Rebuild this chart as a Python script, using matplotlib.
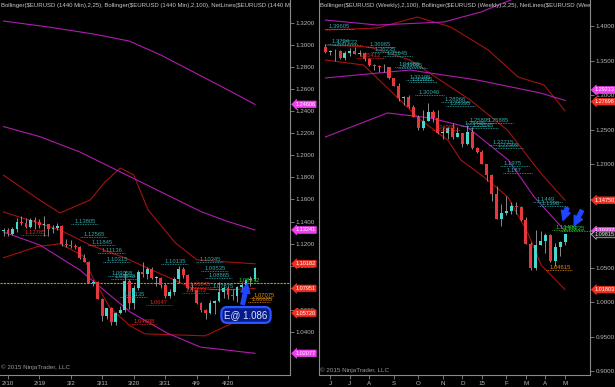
import numpy as np
import matplotlib
matplotlib.use('Agg')
import matplotlib.pyplot as plt
from matplotlib.patches import FancyArrowPatch

plt.rcParams['font.family'] = ['Liberation Sans', 'DejaVu Sans']

# ---- daily EURUSD 2/9 .. 4/28 (left panel) ----
d_open = [1.1315, 1.1320, 1.1290, 1.1330, 1.1400, 1.1390, 1.1350, 1.1410, 1.1400, 1.1370,
          1.1380, 1.1330, 1.1340, 1.1360, 1.1200, 1.1190, 1.1180, 1.1170, 1.1070, 1.1030,
          1.0840, 1.0850, 1.0700, 1.0550, 1.0620, 1.0490, 1.0570, 1.0600, 1.0860, 1.0660,
          1.0800, 1.0940, 1.0930, 1.0970, 1.0890, 1.0890, 1.0830, 1.0730, 1.0760, 1.0880,
          1.0970, 1.0920, 1.0800, 1.0780, 1.0660, 1.0600, 1.0570, 1.0660, 1.0680, 1.0760,
          1.0800, 1.0740, 1.0730, 1.0810, 1.0830, 1.0870, 1.0880]
d_high = [1.1345, 1.1340, 1.1350, 1.1430, 1.1450, 1.1430, 1.1430, 1.1440, 1.1420, 1.1450,
          1.1380, 1.1370, 1.1390, 1.1370, 1.1240, 1.1230, 1.1200, 1.1180, 1.1110, 1.1040,
          1.0870, 1.0860, 1.0710, 1.0620, 1.0630, 1.0580, 1.0640, 1.0950, 1.0880, 1.0830,
          1.0960, 1.1030, 1.0990, 1.0990, 1.0910, 1.0900, 1.0840, 1.0790, 1.0900, 1.1000,
          1.0990, 1.0930, 1.0840, 1.0790, 1.0670, 1.0610, 1.0690, 1.0690, 1.0850, 1.0820,
          1.0820, 1.0790, 1.0820, 1.0850, 1.0880, 1.0910, 1.0990]
d_low = [1.1270, 1.1270, 1.1280, 1.1310, 1.1370, 1.1345, 1.1340, 1.1330, 1.1340, 1.1270,
         1.1270, 1.1300, 1.1320, 1.1180, 1.1170, 1.1160, 1.1150, 1.1060, 1.1030, 1.0840,
         1.0820, 1.0700, 1.0500, 1.0520, 1.0460, 1.0460, 1.0560, 1.0580, 1.0610, 1.0610,
         1.0780, 1.0900, 1.0880, 1.0880, 1.0820, 1.0800, 1.0710, 1.0710, 1.0740, 1.0840,
         1.0890, 1.0790, 1.0770, 1.0650, 1.0580, 1.0520, 1.0560, 1.0560, 1.0670, 1.0710,
         1.0700, 1.0690, 1.0670, 1.0760, 1.0810, 1.0820, 1.0860]
d_close = [1.1320, 1.1290, 1.1330, 1.1400, 1.1390, 1.1350, 1.1410, 1.1400, 1.1370, 1.1380,
           1.1330, 1.1340, 1.1360, 1.1200, 1.1190, 1.1180, 1.1170, 1.1070, 1.1030, 1.0840,
           1.0850, 1.0700, 1.0550, 1.0620, 1.0490, 1.0570, 1.0600, 1.0860, 1.0660, 1.0800,
           1.0940, 1.0930, 1.0970, 1.0890, 1.0890, 1.0830, 1.0730, 1.0760, 1.0880, 1.0970,
           1.0920, 1.0800, 1.0780, 1.0660, 1.0600, 1.0570, 1.0660, 1.0680, 1.0760, 1.0800,
           1.0740, 1.0730, 1.0810, 1.0830, 1.0870, 1.0880, 1.0980]
d_tick_pos = [1, 8, 15, 22, 29, 36, 43, 50]
d_tick_lab = ['2/10', '2/19', '3/2', '3/11', '3/20', '3/31', '4/9', '4/20']

# daily bollinger bands (bar index, price)
d_bb25_up_x = [0, 8, 12.6, 19.3, 22.6, 26, 29, 32.2, 38.3, 43.1, 56]
d_bb25_up = [1.182, 1.1596, 1.1478, 1.1596, 1.1758, 1.1885, 1.1822, 1.1505, 1.1206, 1.1053, 1.10182]
d_bb25_mid_x = [0, 12.6, 19.3, 27.1, 42, 48.7, 56]
d_bb25_mid = [1.1487, 1.1324, 1.1188, 1.1071, 1.0799, 1.0781, 1.07951]
d_bb25_lo_x = [0, 7.5, 12.6, 17.7, 19.9, 23.7, 28.2, 31.5, 44.9, 48.7, 56]
d_bb25_lo = [1.1073, 1.1173, 1.1200, 1.1091, 1.0892, 1.0619, 1.0456, 1.0384, 1.0366, 1.0438, 1.0572]
d_bb100_up_x = [0, 10, 20, 28, 35, 44, 50, 56]
d_bb100_up = [1.3215, 1.3161, 1.3098, 1.3034, 1.2908, 1.2718, 1.2591, 1.24606]
d_bb100_mid_x = [0, 8, 17, 28, 36, 44, 50, 56]
d_bb100_mid = [1.226, 1.217, 1.203, 1.181, 1.165, 1.149, 1.140, 1.13241]
d_bb100_lo_x = [0, 8.1, 17, 28.2, 36.4, 43.8, 56]
d_bb100_lo = [1.1306, 1.1188, 1.0962, 1.0582, 1.0392, 1.0265, 1.02077]
d_entry = 1.0845

# daily NetLines levels: value, first bar, colour group
d_teal_val = [1.13805, 1.12565, 1.11845, 1.11136, 1.10315, 1.09058, 1.08848, 1.07135,
              1.10135, 1.10345, 1.09535, 1.08865, 1.07875]
d_teal_x = [15.5, 17.5, 19.3, 21.5, 22.6, 23.7, 24.4, 26.4, 35.5, 43.3, 44.4, 45.3, 46.2]
d_red_val = [1.12785, 1.04698, 1.0647, 1.08045, 1.07572]
d_red_x = [4.3, 28.6, 32.2, 41.1, 40.2]
d_green_val = [1.08472]
d_green_x = [52]
d_orange_val = [1.07075, 1.06685]
d_orange_x = [55.3, 54.9]

# ---- weekly EURUSD 5/19/2014 .. 4/27/2015 (right panel) ----
w_open = [1.3695, 1.3630, 1.3635, 1.3640, 1.3540, 1.3610, 1.3645, 1.3595, 1.3605, 1.3525,
          1.3430, 1.3425, 1.3410, 1.3400, 1.3240, 1.3130, 1.2950, 1.2965, 1.2830, 1.2685,
          1.2525, 1.2630, 1.2760, 1.2670, 1.2450, 1.2450, 1.2525, 1.2390, 1.2450, 1.2290,
          1.2465, 1.2230, 1.2180, 1.2000, 1.1840, 1.1570, 1.1200, 1.1290, 1.1320, 1.1390,
          1.1380, 1.1190, 1.0840, 1.0490, 1.0820, 1.0890, 1.0970, 1.0600, 1.0800, 1.0870]
w_high = [1.3735, 1.3650, 1.3670, 1.3650, 1.3645, 1.3680, 1.3700, 1.3650, 1.3620, 1.3540,
          1.3445, 1.3440, 1.3445, 1.3410, 1.3245, 1.3170, 1.2990, 1.2995, 1.2860, 1.2705,
          1.2790, 1.2890, 1.2780, 1.2790, 1.2530, 1.2530, 1.2600, 1.2530, 1.2455, 1.2570,
          1.2530, 1.2250, 1.2200, 1.2000, 1.1850, 1.1680, 1.1420, 1.1535, 1.1450, 1.1450,
          1.1390, 1.1230, 1.0870, 1.1040, 1.1030, 1.1000, 1.0990, 1.0850, 1.0880, 1.0990]
w_low = [1.3615, 1.3585, 1.3500, 1.3525, 1.3505, 1.3570, 1.3590, 1.3570, 1.3490, 1.3420,
         1.3365, 1.3335, 1.3330, 1.3225, 1.3130, 1.2920, 1.2860, 1.2815, 1.2680, 1.2500,
         1.2500, 1.2620, 1.2610, 1.2440, 1.2360, 1.2360, 1.2360, 1.2390, 1.2245, 1.2270,
         1.2220, 1.2165, 1.1995, 1.1750, 1.1460, 1.1200, 1.1100, 1.1260, 1.1270, 1.1270,
         1.1170, 1.0840, 1.0460, 1.0460, 1.0820, 1.0710, 1.0580, 1.0520, 1.0670, 1.0820]
w_close = [1.3630, 1.3635, 1.3640, 1.3540, 1.3610, 1.3645, 1.3595, 1.3605, 1.3525, 1.3430,
           1.3425, 1.3410, 1.3400, 1.3240, 1.3130, 1.2950, 1.2965, 1.2830, 1.2685, 1.2525,
           1.2630, 1.2760, 1.2670, 1.2450, 1.2450, 1.2525, 1.2390, 1.2450, 1.2290, 1.2465,
           1.2230, 1.2180, 1.2000, 1.1840, 1.1570, 1.1200, 1.1290, 1.1320, 1.1390, 1.1380,
           1.1190, 1.0840, 1.0490, 1.0820, 1.0890, 1.0970, 1.0600, 1.0800, 1.0870, 1.0980]
w_tick_pos = [1, 5, 9, 14, 19, 24, 28, 32, 37, 41, 45, 49]
w_tick_lab = ['J', 'J', 'A', 'S', 'O', 'N', 'D', '15', 'F', 'M', 'A', 'M']

w_bb25_up_x = [0, 10.6, 18.8, 25.6, 33.3, 39.4, 44.7, 49]
w_bb25_up = [1.3942, 1.3971, 1.4130, 1.3986, 1.3652, 1.3261, 1.3145, 1.27698]
w_bb25_mid_x = [0, 9, 17.3, 29.6, 37.2, 44, 49]
w_bb25_mid = [1.3725, 1.3696, 1.3507, 1.2928, 1.2493, 1.1870, 1.1475]
w_bb25_lo_x = [0, 7.8, 19.5, 25, 27.7, 32.4, 37.3, 41.4, 44.1, 49]
w_bb25_lo = [1.3507, 1.3435, 1.2638, 1.2348, 1.2058, 1.1812, 1.1522, 1.1000, 1.0537, 1.01803]
w_bb100_up_x = [0, 10.6, 24.2, 31.8, 37.9, 43.5, 49]
w_bb100_up = [1.4087, 1.4014, 1.4058, 1.4203, 1.4377, 1.460, 1.481]
w_bb100_mid_x = [0, 17.3, 31, 44, 49]
w_bb100_mid = [1.3247, 1.3362, 1.3218, 1.3029, 1.29213]
w_bb100_lo_x = [0, 12.7, 21.5, 29, 37.4, 42.7, 49]
w_bb100_lo = [1.2392, 1.2740, 1.2667, 1.2536, 1.2058, 1.1522, 1.1030]

w_teal_val = [1.39605, 1.3734, 1.37222, 1.36965, 1.36235, 1.35645, 1.34088, 1.33925,
              1.32195, 1.31885, 1.30046, 1.28966, 1.28395, 1.25895, 1.25885, 1.25445,
              1.25245, 1.22715, 1.22305, 1.1975, 1.187, 1.1449, 1.1398]
w_teal_x = [0.3, 0.9, 2, 8.7, 9.8, 12.2, 14.7, 15.3, 16.8, 17.4, 18.8, 24, 25, 29.1, 32.8,
            28.1, 29.7, 33.8, 34.8, 36.2, 36.8, 42.9, 43.9]
w_red_val = [1.35412, 1.24905]
w_red_x = [6.7, 22.1]
w_green_val = [1.10406, 1.10225]
w_green_x = [46.8, 48.3]
w_orange_val = [1.04615]
w_orange_x = [45.6]

UP = '#4ad6cf'
DOWN = '#e8383f'
TEAL = '#2fa9a9'
GRID = '#8a8a8a'
TXT = '#b8b8b8'


def draw_candles(ax, o, h, l, c, min_body):
    o, h, l, c = map(np.asarray, (o, h, l, c))
    x = np.arange(len(o))
    cols = [UP if cc > oo else (DOWN if cc < oo else '#c0c0c0') for oo, cc in zip(o, c)]
    ax.vlines(x, l, h, colors='#a0a0a0', lw=0.6, zorder=3)
    body = np.maximum(np.abs(c - o), min_body)
    ax.bar(x, body, bottom=np.minimum(o, c), width=0.62, color=cols, lw=0, zorder=4)


def draw_bands(ax, red, mag):
    for xs, ys in red:
        ax.plot(xs, ys, color='#a3120f', lw=0.8, zorder=2)
    for xs, ys in mag:
        ax.plot(xs, ys, color='#b01cb0', lw=0.8, zorder=2)


def draw_levels(ax, vals, xs, color, width):
    for v, x in zip(vals, xs):
        ax.hlines(v, x - 0.4, x + width, colors=color, lw=0.6, linestyles=(0, (1, 1)), zorder=5)
        ax.text(x + 0.3, v, '%g' % v, color=color,
                fontsize=4.2, ha='left', va='bottom', zorder=6, clip_on=True)


def style_axes(ax, yticks, fmt):
    ax.set_facecolor('black')
    for side in ('top', 'left'):
        ax.spines[side].set_visible(False)
    for side in ('right', 'bottom'):
        ax.spines[side].set_color(GRID)
        ax.spines[side].set_linewidth(0.8)
    ax.yaxis.tick_right()
    ax.set_yticks(yticks)
    ax.set_yticklabels([fmt % t for t in yticks])
    ax.tick_params(axis='both', colors=GRID, labelcolor=TXT, labelsize=4.5, length=3, width=0.6, pad=1)


def tag(ax, price, text, fc, ec=None, tc='white'):
    ax.text(1.018, price, text, transform=ax.get_yaxis_transform(), ha='left', va='center',
            fontsize=4.0, color=tc, clip_on=False, zorder=20,
            bbox=dict(boxstyle='larrow,pad=0.15', fc=fc, ec=ec or fc, lw=0.5))


fig = plt.figure(figsize=(6.15, 3.87), dpi=100, facecolor='black')

# ---------------- left: daily ----------------
ax1 = fig.add_axes([0, 12 / 387, 290 / 615, 375 / 387])
style_axes(ax1, np.arange(1.04, 1.3201, 0.02), '%.4f')
ax1.set_xlim(-0.78, 63.8)
ax1.set_ylim(1.00117, 1.34054)
ax1.set_xticks(d_tick_pos)
ax1.set_xticklabels(d_tick_lab)

ax1.axhline(d_entry, color='#8fb020', lw=0.8, ls=(0, (2, 1)), zorder=1)
draw_bands(ax1,
           [(d_bb25_up_x, d_bb25_up), (d_bb25_mid_x, d_bb25_mid), (d_bb25_lo_x, d_bb25_lo)],
           [(d_bb100_up_x, d_bb100_up), (d_bb100_mid_x, d_bb100_mid), (d_bb100_lo_x, d_bb100_lo)])
draw_candles(ax1, d_open, d_high, d_low, d_close, 0.0005)
draw_levels(ax1, d_teal_val, d_teal_x, TEAL, 5.5)
draw_levels(ax1, d_red_val, d_red_x, '#e0281e', 5.5)
draw_levels(ax1, d_green_val, d_green_x, '#25d025', 5)
draw_levels(ax1, d_orange_val, d_orange_x, '#e08a10', 4.5)

ax1.text(0.002, 0.993, 'Bollinger($EURUSD (1440 Min),2,25), Bollinger($EURUSD (1440 Min),2,100), '
         'NetLines($EURUSD (1440 Min),3,5,Cold', transform=ax1.transAxes, fontsize=4.3,
         color='#c8c8c8', va='top', ha='left', clip_on=True)
ax1.text(0.003, 0.012, '\u00a9 2015 NinjaTrader, LLC', transform=ax1.transAxes, fontsize=4.5,
         color='#9a9a9a', va='bottom', ha='left')

tag(ax1, d_bb100_up[-1], '1.24606', '#f040f0')
tag(ax1, d_bb100_mid[-1], '1.13241', '#f040f0')
tag(ax1, d_bb100_lo[-1], '1.02077', '#f040f0')
tag(ax1, d_bb25_up[-1], '1.10182', '#f03020')
tag(ax1, d_bb25_mid[-1], '1.07951', '#f03020')
tag(ax1, d_bb25_lo[-1], '1.05720', '#f03020')

ax1.add_patch(FancyArrowPatch((53.1, 1.0627), (54.45, 1.0862), arrowstyle='simple,head_width=3,head_length=3,tail_width=1.2',
                              mutation_scale=2.2, color='#1e46ff', zorder=25))
ax1.text(54.0, 1.0555, 'E@ 1.086', fontsize=7, color='#dde6ff', ha='center', va='center', zorder=26,
         bbox=dict(boxstyle='round,pad=0.3,rounding_size=0.6', fc='#061a8a', ec='#2a55ff', lw=1.6))

# ---------------- right: weekly ----------------
ax2 = fig.add_axes([319 / 615, 12 / 387, 271 / 615, 375 / 387])
style_axes(ax2, np.arange(0.90, 1.4001, 0.05), '%.4f')
ax2.spines['left'].set_visible(True)
ax2.spines['left'].set_color(GRID)
ax2.spines['left'].set_linewidth(0.8)
ax2.set_xlim(-1.31, 54.1)
ax2.set_ylim(0.8943, 1.43768)
ax2.set_xticks(w_tick_pos)
ax2.set_xticklabels(w_tick_lab)

draw_bands(ax2,
           [(w_bb25_up_x, w_bb25_up), (w_bb25_mid_x, w_bb25_mid), (w_bb25_lo_x, w_bb25_lo)],
           [(w_bb100_up_x, w_bb100_up), (w_bb100_mid_x, w_bb100_mid), (w_bb100_lo_x, w_bb100_lo)])
draw_candles(ax2, w_open, w_high, w_low, w_close, 0.0008)
draw_levels(ax2, w_teal_val, w_teal_x, TEAL, 5.5)
draw_levels(ax2, w_red_val, w_red_x, '#e0281e', 5.5)
draw_levels(ax2, w_green_val, w_green_x, '#25d025', 6)
draw_levels(ax2, w_orange_val, w_orange_x, '#e08a10', 4.8)

ax2.text(0.004, 0.993, 'Bollinger($EURUSD (Weekly),2,100), Bollinger($EURUSD (Weekly),2,25), '
         'NetLines($EURUSD (Weekly),3,5,Cold', transform=ax2.transAxes, fontsize=4.3,
         color='#c8c8c8', va='top', ha='left', clip_on=True)
ax2.text(0.004, 0.005, '\u00a9 2015 NinjaTrader, LLC', transform=ax2.transAxes, fontsize=4.5,
         color='#9a9a9a', va='bottom', ha='left')

# the two upper tags sit a little above their levels on the reference
tag(ax2, 1.3073, '1.29213', '#f040f0')
tag(ax2, 1.2903, '1.27698', '#f03020')
tag(ax2, w_bb25_mid[-1], '1.14750', '#f03020')
tag(ax2, w_bb100_lo[-1], '1.10337', '#f040f0')
tag(ax2, w_close[-1], '1.09815', '#1a1a1a', ec='#d0d0d0', tc='#e0e0e0')
tag(ax2, w_bb25_lo[-1], '1.01803', '#f03020')

for tail, tip in [((49.6, 1.1406), (48.4, 1.1145)), ((52.7, 1.1363), (50.6, 1.1073))]:
    ax2.add_patch(FancyArrowPatch(tail, tip, arrowstyle='simple,head_width=3,head_length=3,tail_width=1.2',
                                  mutation_scale=2.2, color='#1e46ff', zorder=25))

fig.savefig('out.png', dpi=100, facecolor='black')
